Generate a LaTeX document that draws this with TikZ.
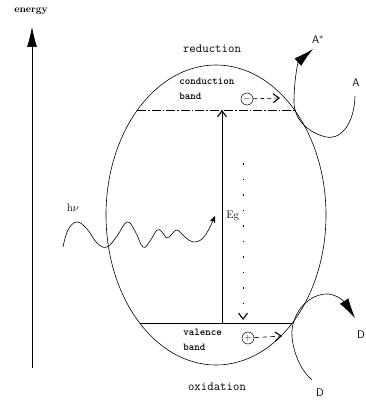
\documentclass[tikz,border=0pt]{standalone}
\usepackage{fontspec}
\usetikzlibrary{arrows.meta,shapes.geometric}
\begin{document}
\begin{tikzpicture}[x=1pt,y=-1pt,line width=0.6pt,
  bigtip/.style={-{Latex[length=20pt,width=10pt]}},
  chev/.style={-{Straight Barb[length=6pt,width=9pt,line width=1.1pt]}},
  ttlab/.style={font=\ttfamily\fontsize{12.5}{14}\selectfont,inner sep=0pt},
  bandlab/.style={font=\ttfamily\bfseries\fontsize{10.5}{14.5}\selectfont,align=left,anchor=west,inner sep=0pt},
  romlab/.style={font=\fontsize{11}{13}\selectfont,inner sep=0pt},
  sanlab/.style={font=\sffamily\fontsize{11}{13}\selectfont,inner sep=0pt},
  charge/.style={draw,circle,minimum size=12pt,inner sep=0pt,line width=0.5pt,font=\fontsize{9}{9}\selectfont}]
\useasboundingbox (0,0) rectangle (366,401);

% energy axis
\node[font=\bfseries\fontsize{10}{12}\selectfont,inner sep=0pt] (energy) at (31,11) {energy};
\coordinate (ebot) at (32,368);
\coordinate (etop) at (32,27);
\draw[bigtip] (ebot) -- (etop);

% particle
\node[draw,ellipse,minimum width=220pt,minimum height=300pt,inner sep=0pt] (cell) at (216,215) {};

% bands
\coordinate (cbL) at (137.4,110);
\coordinate (cbR) at (294.6,110);
\coordinate (vbL) at (139.7,323);
\coordinate (vbR) at (292.3,323);
\draw[dash pattern=on 9pt off 2pt on 1.5pt off 2pt] (cbL) -- (cbR);
\draw (vbL) -- (vbR);

\node[ttlab] (red) at (212,49) {reduction};
\node[ttlab] (ox) at (217,387) {oxidation};
\node[bandlab] (cb) at (179,89) {conduction\\band};
\node[bandlab] (vb) at (183,340) {valence\\band};

% band gap
\coordinate (egB) at (222,323);
\coordinate (egT) at (222,110);
\draw[chev] (egB) -- (egT);
\node[romlab,anchor=west] (eg) at (226,216) {Eg};

\coordinate (dotT) at (243,163);
\coordinate (dotB) at (243,320);
\draw[chev,dash pattern=on 1.5pt off 14pt] (dotT) -- (dotB);

% charges
\node[charge] (minus) at (247,99) {$-$};
\coordinate (mEnd) at (280,98);
\draw[chev,dash pattern=on 4pt off 3pt] (minus) -- (mEnd);
\node[charge] (plus) at (248,338) {$+$};
\coordinate (pEnd) at (282,336);
\draw[chev,dash pattern=on 5pt off 3pt] (plus) -- (pEnd);

% light
\node[romlab] (hv) at (73,208) {h$\nu$};
\coordinate (wEnd) at (215,216);
\draw[-{Stealth[length=7pt,width=6pt]}] plot[smooth,tension=0.7] coordinates
 {(63,247) (68,230) (77,222) (87,229) (97,243) (107,247) (117,236) (127,222) (135,231) (143,247) (150,241) (157,230) (162,232) (167,238) (172,234) (177,230) (185,237) (193,242) (202,239) (209,229) (wEnd)};

% reduction cycle
\node[sanlab] (A) at (356,83) {A};
\node[sanlab] (Astar) at (318,40) {A$^{*}$};
\coordinate (aS) at (355,96);
\coordinate (aE) at (313,49);
\draw[bigtip] (aS) .. controls (354,128) and (338,140) .. (326,137)
  .. controls (306,132) and (294,118) .. (294,102)
  .. controls (294,80) and (298,62) .. (aE);

% oxidation cycle
\node[sanlab] (D) at (361,335) {D};
\node[sanlab] (Dbot) at (320,393) {D};
\coordinate (dS) at (312,380);
\coordinate (dE) at (355,318);
\draw[bigtip] (dS) .. controls (298,368) and (291,345) .. (292,330)
  .. controls (294,310) and (310,294) .. (327,294)
  .. controls (338,294) and (346,304) .. (dE);
\end{tikzpicture}
\end{document}
